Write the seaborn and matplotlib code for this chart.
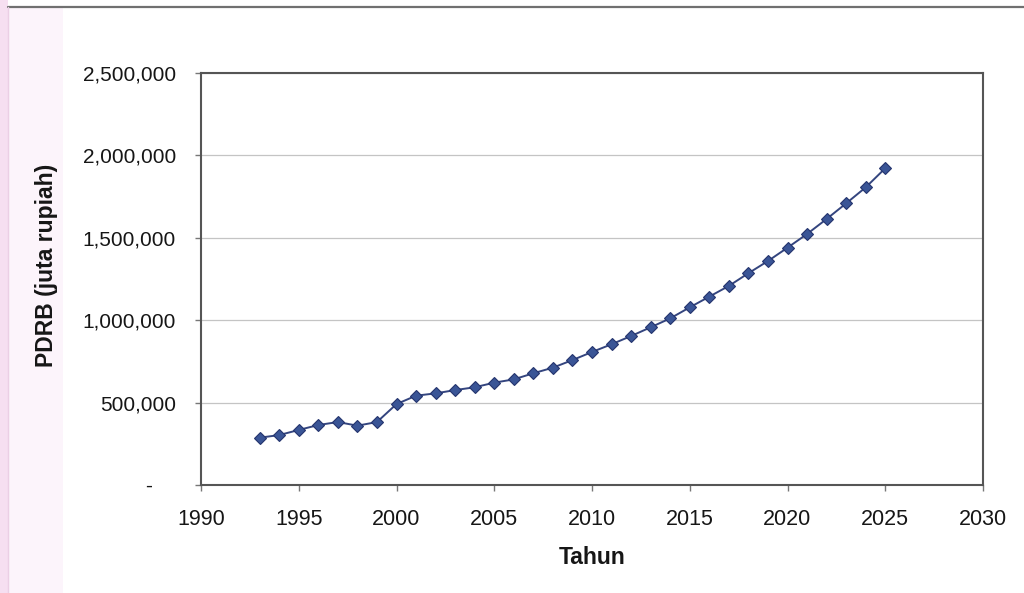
import matplotlib
matplotlib.use("Agg")
import matplotlib.pyplot as plt
import matplotlib.ticker as mticker
from matplotlib.patches import Rectangle
from matplotlib.lines import Line2D
import seaborn as sns
import pandas as pd

# PDRB series (juta rupiah), actual and projected
years = list(range(1993, 2026))
pdrb = [287000, 303000, 334000, 364000, 382000, 360000, 382000, 491000,
        542000, 556000, 576000, 593000, 621000, 641000, 678000, 712000,
        758000, 807000, 854000, 904000, 957000, 1011000, 1078000, 1143000,
        1208000, 1285000, 1359000, 1440000, 1523000, 1614000, 1709000,
        1806000, 1922000]

x_ticks = list(range(1990, 2031, 5))
y_ticks = [0, 500000, 1000000, 1500000, 2000000, 2500000]

df = pd.DataFrame({"Tahun": years, "PDRB": pdrb})

sns.set_theme(style="white")
plt.rcParams["font.family"] = ["Liberation Sans", "DejaVu Sans"]

fig = plt.figure(figsize=(10.24, 5.93), dpi=100)
fig.patch.set_facecolor("white")

# page edge: pink margin strip and frame line
fig.patches.append(Rectangle((0, 0), 8 / 1024, 1, transform=fig.transFigure,
                             facecolor="#f6dff1", edgecolor="none", zorder=-10))
fig.patches.append(Rectangle((8 / 1024, 0), 55 / 1024, 1 - 8 / 593,
                             transform=fig.transFigure, facecolor="#fcf4fb",
                             edgecolor="none", zorder=-10))
fig.lines.append(Line2D([8 / 1024, 1], [1 - 7 / 593, 1 - 7 / 593],
                        transform=fig.transFigure, color="#707070", lw=1.6,
                        zorder=-5))
fig.lines.append(Line2D([8 / 1024, 8 / 1024], [0, 1 - 7 / 593],
                        transform=fig.transFigure, color="#ebcfe5", lw=1.0,
                        zorder=-5))

ax = fig.add_axes([201 / 1024, 1 - 485 / 593, 782 / 1024, 412 / 593])
ax.set_facecolor("white")

sns.lineplot(data=df, x="Tahun", y="PDRB", ax=ax, color="#34457f", lw=1.4,
             marker="D", markersize=6.5, markerfacecolor="#3a5596",
             markeredgecolor="#24346e", markeredgewidth=0.8, zorder=3)

ax.set_xlim(1990, 2030)
ax.set_ylim(0, 2500000)
ax.set_xticks(x_ticks)
ax.set_yticks(y_ticks)
ax.yaxis.set_major_formatter(
    mticker.FuncFormatter(lambda v, p: "-    " if v == 0 else f"{int(v):,}"))

ax.grid(axis="y", color="#c4c4c4", lw=0.9)
ax.grid(axis="x", visible=False)
for s in ax.spines.values():
    s.set_color("#555555")
    s.set_linewidth(1.5)

ax.tick_params(axis="both", which="major", direction="out", length=4,
               width=1.0, color="#777777", labelsize=15, labelcolor="#161616")
ax.tick_params(axis="x", pad=13, labelsize=15.5)
ax.tick_params(axis="y", pad=14)
ax.tick_params(left=True, bottom=True)

ax.set_xlabel("Tahun", fontsize=16.5, fontweight="bold", color="#161616",
              labelpad=12)
ax.set_ylabel("PDRB (juta rupiah)", fontsize=16.5, fontweight="bold",
              color="#161616")
ax.yaxis.set_label_coords(-0.183, 0.534)

fig.savefig("out.png", dpi=100, facecolor=fig.get_facecolor())
